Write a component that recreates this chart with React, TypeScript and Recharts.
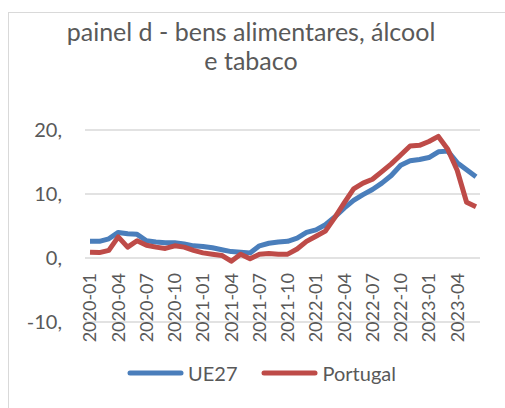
import React from "react";
import { LineChart, Line, XAxis, YAxis, CartesianGrid, Legend } from "recharts";

const months: string[] = [
  "2020-01","2020-02","2020-03","2020-04","2020-05","2020-06","2020-07","2020-08","2020-09","2020-10","2020-11","2020-12",
  "2021-01","2021-02","2021-03","2021-04","2021-05","2021-06","2021-07","2021-08","2021-09","2021-10","2021-11","2021-12",
  "2022-01","2022-02","2022-03","2022-04","2022-05","2022-06","2022-07","2022-08","2022-09","2022-10","2022-11","2022-12",
  "2023-01","2023-02","2023-03","2023-04","2023-05","2023-06",
];

const ue27: number[] = [
  2.6, 2.6, 3.0, 4.0, 3.8, 3.7, 2.7, 2.5, 2.4, 2.4, 2.2, 1.9,
  1.8, 1.6, 1.3, 1.0, 0.9, 0.8, 1.9, 2.3, 2.5, 2.6, 3.1, 4.0,
  4.4, 5.2, 6.4, 7.8, 9.0, 9.9, 10.7, 11.7, 12.9, 14.5, 15.2, 15.4,
  15.7, 16.6, 16.7, 14.9, 13.8, 12.7,
];

const portugal: number[] = [
  0.9, 0.85, 1.2, 3.3, 1.7, 2.7, 2.0, 1.7, 1.5, 1.9, 1.7, 1.2,
  0.8, 0.6, 0.4, -0.5, 0.6, -0.1, 0.6, 0.7, 0.6, 0.6, 1.4, 2.6,
  3.4, 4.2, 6.3, 8.6, 10.8, 11.7, 12.3, 13.5, 14.7, 16.1, 17.5, 17.6,
  18.2, 19.0, 17.0, 13.7, 8.7, 8.0,
];

const yTicks: number[] = [-10, 0, 10, 20];
const titleLines: string[] = ["painel d - bens alimentares, álcool", "e tabaco"];
const seriesNames: string[] = ["UE27", "Portugal"];

const data = months.map((m, i) => ({ month: m, UE27: ue27[i], Portugal: portugal[i] }));

const FONT = "Lato, 'Open Sans', sans-serif";
const TEXT = "#595959";
const BLUE = "#4A7EBB";
const RED = "#BE4B48";

const XTick = (props: any) => {
  const { x, y, payload } = props;
  const y0 = y - 49;
  return (
    <text
      transform={`translate(${x},${y0}) rotate(-90)`}
      textAnchor="end"
      dy="0.36em"
      fill={TEXT}
      fontSize={18}
      fontFamily={FONT}
    >
      {payload.value}
    </text>
  );
};

const LegendContent = () => (
  <div style={{ display: "flex", justifyContent: "center", alignItems: "center", paddingLeft: 18, fontFamily: FONT, fontSize: 20, color: TEXT }}>
    {[BLUE, RED].map((c, i) => (
      <div key={i} style={{ display: "flex", alignItems: "center", marginRight: i === 0 ? 24 : 0 }}>
        <svg width={57} height={8} style={{ marginRight: 4 }}>
          <line x1={3} y1={4} x2={54} y2={4} stroke={c} strokeWidth={5} strokeLinecap="round" />
        </svg>
        <span>{seriesNames[i]}</span>
      </div>
    ))}
  </div>
);

export default function App() {
  return (
    <div style={{ position: "absolute", left: 0, top: 0, width: 505, height: 408, overflow: "hidden", background: "#fff" }}>
      <div style={{ position: "absolute", left: 8, top: 12, width: 600, height: 600, border: "1px solid #D9D9D9" }} />
      <div
        style={{
          position: "absolute",
          left: 0,
          top: 17,
          width: 502,
          textAlign: "center",
          fontFamily: FONT,
          fontSize: 25,
          lineHeight: "29px",
          color: TEXT,
        }}
      >
        {titleLines.map((t, i) => (
          <div key={i}>{t}</div>
        ))}
      </div>
      <div style={{ position: "absolute", left: 0, top: 0 }}>
        <LineChart width={505} height={408} data={data} margin={{ top: 130, right: 25, left: 15, bottom: 56 }}>
          <CartesianGrid vertical={false} stroke="#D9D9D9" strokeWidth={1.5} />
          <XAxis
            dataKey="month"
            interval={2}
            height={30}
            axisLine={false}
            tickLine={false}
            tickSize={0}
            tickMargin={0}
            padding={{ left: 5, right: 4 }}
            tick={<XTick />}
          />
          <YAxis
            domain={[-10, 20]}
            ticks={yTicks}
            width={70}
            axisLine={false}
            tickLine={false}
            tickSize={0}
            tickMargin={23}
            tickFormatter={(v: number) => `${v},`}
            tick={{ fill: TEXT, fontSize: 20, fontFamily: FONT }}
          />
          <Legend
            layout="horizontal"
            verticalAlign="middle"
            align="center"
            wrapperStyle={{ top: 361, left: 0, width: 505 }}
            content={<LegendContent />}
          />
          <Line type="linear" dataKey="UE27" stroke={BLUE} strokeWidth={5} dot={false} isAnimationActive={false} strokeLinejoin="round" />
          <Line type="linear" dataKey="Portugal" stroke={RED} strokeWidth={5} dot={false} isAnimationActive={false} strokeLinejoin="round" />
        </LineChart>
      </div>
    </div>
  );
}
